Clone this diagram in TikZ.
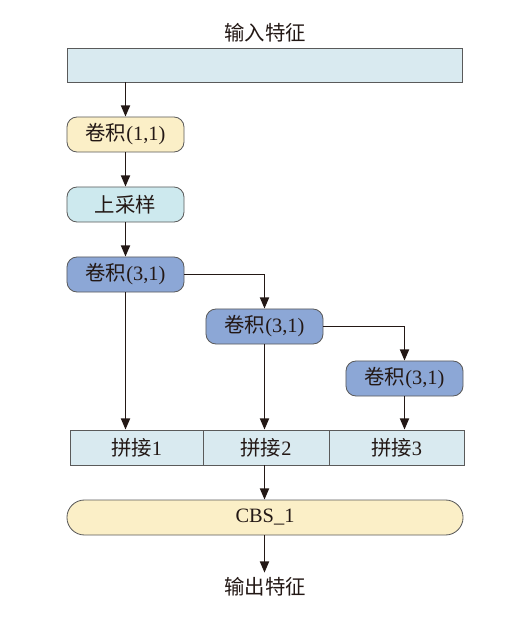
\documentclass[tikz,border=0pt]{standalone}
\usepackage{fontspec}
\setmainfont{Liberation Serif}
\newfontfamily\cjk{Noto Sans CJK SC}
\usetikzlibrary{arrows.meta}
\definecolor{featblue}{HTML}{D9EAF0}
\definecolor{convyellow}{HTML}{FBEFC7}
\definecolor{upcyan}{HTML}{CDE9EE}
\definecolor{convblue}{HTML}{8CA7D6}
\definecolor{edgegray}{HTML}{5A5A5A}
\definecolor{ink}{HTML}{231815}
\tikzset{
  box/.style={draw=edgegray, line width=0.6pt, inner sep=0pt, minimum height=0.875cm,
    font=\fontsize{14.5}{16}\selectfont, text=ink},
  rbox/.style={box, rounded corners=0.25cm, minimum width=2.925cm},
  flow/.style={draw=ink, line width=1.1pt, -{Triangle[width=6.5pt,length=8pt]}}
}

\begin{document}
\begin{tikzpicture}[x=0.025cm, y=-0.025cm]
\useasboundingbox (0,0) rectangle (521,622);
\node[font=\cjk\fontsize{14.5}{16}\selectfont, text=ink] (in) at (265,33) {输入特征};
\node[box, fill=featblue, minimum width=9.875cm, minimum height=0.85cm] (bar) at (264.5,65) {};
\node[rbox, fill=convyellow] (c11) at (125.5,134.5) {{\cjk 卷积}(1,1)};
\node[rbox, fill=upcyan] (up) at (125.5,204.5) {\cjk 上采样};
\node[rbox, fill=convblue] (ca) at (125.5,274.5) {{\cjk 卷积}(3,1)};
\node[rbox, fill=convblue] (cb) at (264.5,326.5) {{\cjk 卷积}(3,1)};
\node[rbox, fill=convblue] (cc) at (404.5,378.5) {{\cjk 卷积}(3,1)};
% concat row
\node[box, fill=featblue, minimum width=3.325cm] (p1) at (136.5,447.5) {{\cjk 拼接}1};
\node[box, fill=featblue, minimum width=3.15cm] (p2) at (266,447.5) {{\cjk 拼接}2};
\node[box, fill=featblue, minimum width=3.375cm] (p3) at (396.5,447.5) {{\cjk 拼接}3};
\node[box, fill=convyellow, rounded corners=0.4375cm, minimum width=9.9cm] (cbs) at (265,517.5) {CBS\_1};
\node[font=\cjk\fontsize{14.5}{16}\selectfont, text=ink] (out) at (265,587) {输出特征};

\draw[flow] (bar.south -| c11) -- (c11);
\draw[flow] (c11) -- (up); \draw[flow] (up) -- (ca);
\draw[flow] (ca.east) -| (cb.north); \draw[flow] (cb.east) -| (cc.north);
\draw[flow] (ca) -- (ca |- p1.north);
\draw[flow] (cb) -- (cb |- p2.north);
\draw[flow] (cc) -- (cc |- p3.north);
\draw[flow] (cb |- p2.south) -- (cb |- cbs.north);
\draw[flow] (cbs.south -| cb) -- (out.north -| cb);
\end{tikzpicture}
\end{document}
